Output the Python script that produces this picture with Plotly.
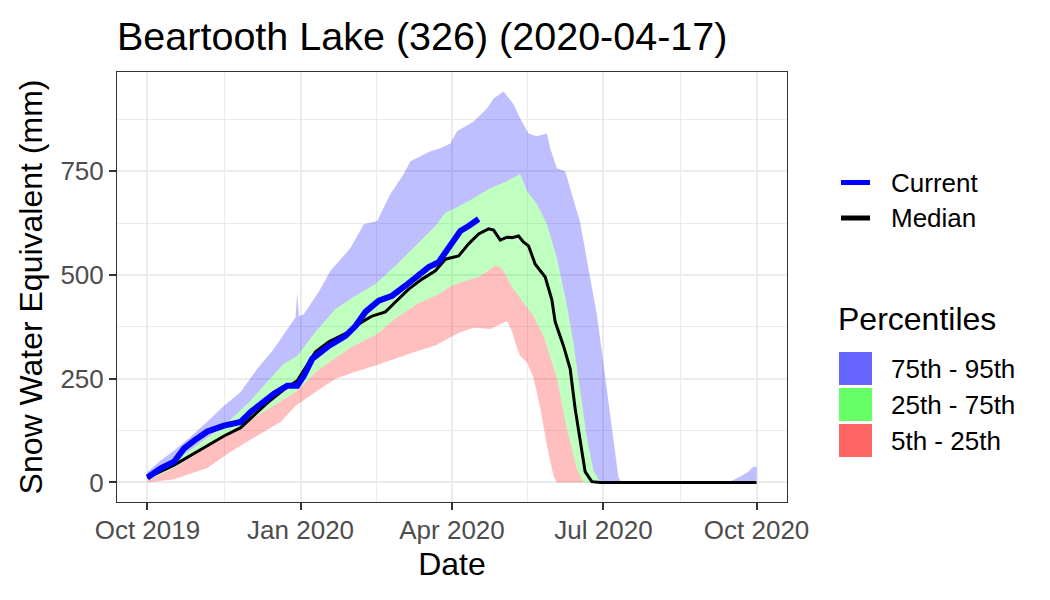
import plotly.graph_objects as go

# ---------------- data ----------------
p95_dates = ["2019-10-01", "2019-10-09", "2019-10-17", "2019-10-27", "2019-11-08", "2019-11-16",
             "2019-11-26", "2019-12-06", "2019-12-16", "2019-12-26", "2019-12-29", "2019-12-30",
             "2019-12-31", "2020-01-03", "2020-01-12", "2020-01-19", "2020-01-31", "2020-02-08",
             "2020-02-16", "2020-02-24", "2020-03-03", "2020-03-07", "2020-03-19", "2020-03-25",
             "2020-03-31", "2020-04-04", "2020-04-14", "2020-04-22", "2020-04-26", "2020-05-02",
             "2020-05-08", "2020-05-12", "2020-05-17", "2020-05-22", "2020-05-28", "2020-05-30",
             "2020-06-03", "2020-06-08", "2020-06-13", "2020-06-17", "2020-06-23", "2020-06-27",
             "2020-07-01", "2020-07-04", "2020-07-07", "2020-07-10", "2020-07-12", "2020-09-14",
             "2020-09-21", "2020-09-26", "2020-09-29", "2020-10-01"]
p95_vals = [25, 53, 77, 110, 154, 185,
            218, 274, 322, 382, 398, 457,
            400, 406, 460, 510, 565, 622,
            630, 695, 743, 774, 798, 805,
            817, 846, 870, 901, 925, 942,
            911, 877, 841, 834, 841, 805,
            757, 750, 685, 627, 493, 406,
            286, 190, 94, 12, 0, 0,
            14, 26, 38, 38]

p75_dates = ["2019-10-01", "2019-10-09", "2019-10-17", "2019-10-27", "2019-11-06", "2019-11-16",
             "2019-12-02", "2019-12-12", "2019-12-22", "2019-12-30", "2020-01-10", "2020-01-22",
             "2020-02-03", "2020-02-15", "2020-02-27", "2020-03-10", "2020-03-22", "2020-03-28",
             "2020-04-04", "2020-04-14", "2020-04-24", "2020-05-04", "2020-05-12", "2020-05-16",
             "2020-05-22", "2020-05-28", "2020-06-03", "2020-06-09", "2020-06-13", "2020-06-17",
             "2020-06-21", "2020-06-25", "2020-06-29", "2020-09-27", "2020-10-01"]
p75_vals = [17, 30, 50, 80, 108, 137,
            197, 243, 286, 305, 363, 418,
            450, 478, 522, 570, 618, 650,
            663, 685, 709, 726, 743, 702,
            671, 623, 541, 428, 334, 221,
            108, 29, 0, 0, 5]

p25_dates = ["2019-10-01", "2019-10-17", "2019-10-27", "2019-11-06", "2019-11-16", "2019-12-02",
             "2019-12-16", "2019-12-30", "2020-01-11", "2020-01-22", "2020-01-31", "2020-02-16",
             "2020-02-27", "2020-03-11", "2020-03-22", "2020-04-01", "2020-04-09", "2020-04-17",
             "2020-04-27", "2020-04-30", "2020-05-03", "2020-05-07", "2020-05-13", "2020-05-20",
             "2020-05-26", "2020-06-03", "2020-06-09", "2020-06-15", "2020-06-19", "2020-10-01"]
p25_vals = [5, 35, 60, 88, 110, 150,
            185, 221, 269, 300, 325, 358,
            395, 430, 450, 474, 486, 495,
            522, 520, 502, 471, 440, 401,
            353, 252, 130, 34, 0, 0]

p5_dates = ["2019-10-01", "2019-10-17", "2019-11-06", "2019-11-20", "2019-12-06", "2019-12-20",
            "2019-12-29", "2020-01-10", "2020-01-22", "2020-02-03", "2020-02-15", "2020-02-27",
            "2020-03-10", "2020-03-22", "2020-03-31", "2020-04-06", "2020-04-14", "2020-04-24",
            "2020-04-30", "2020-05-04", "2020-05-07", "2020-05-10", "2020-05-12", "2020-05-16",
            "2020-05-20", "2020-05-24", "2020-05-28", "2020-06-01", "2020-06-03", "2020-10-01"]
p5_vals = [0, 8, 35, 74, 113, 146,
           185, 218, 250, 267, 282, 298,
           315, 330, 350, 362, 373, 370,
           382, 389, 365, 325, 305, 290,
           252, 180, 90, 15, 0, 0]

median_dates = ["2019-10-01", "2019-10-03", "2019-10-17", "2019-10-27", "2019-11-06", "2019-11-16",
                "2019-11-26", "2019-12-02", "2019-12-12", "2019-12-22", "2019-12-30", "2020-01-10",
                "2020-01-18", "2020-01-30", "2020-02-07", "2020-02-13", "2020-02-21", "2020-02-27",
                "2020-03-06", "2020-03-14", "2020-03-22", "2020-03-28", "2020-04-05", "2020-04-11",
                "2020-04-17", "2020-04-23", "2020-04-26", "2020-04-30", "2020-05-04", "2020-05-07",
                "2020-05-11", "2020-05-14", "2020-05-17", "2020-05-21", "2020-05-27", "2020-05-31",
                "2020-06-02", "2020-06-07", "2020-06-11", "2020-06-14", "2020-06-17", "2020-06-20",
                "2020-06-24", "2020-06-29", "2020-10-01"]
median_vals = [10, 15, 42, 66, 90, 112,
               132, 155, 192, 224, 245, 315,
               339, 363, 387, 401, 411, 435,
               466, 490, 510, 538, 546, 575,
               599, 611, 608, 584, 591, 590,
               594, 579, 570, 526, 495, 440,
               387, 329, 274, 178, 99, 26,
               2, 0, 0]

current_dates = ["2019-10-01", "2019-10-09", "2019-10-17", "2019-10-23", "2019-10-29", "2019-11-06",
                 "2019-11-16", "2019-11-26", "2019-12-02", "2019-12-10", "2019-12-16", "2019-12-24",
                 "2019-12-30", "2020-01-03", "2020-01-08", "2020-01-18", "2020-01-28", "2020-02-03",
                 "2020-02-09", "2020-02-17", "2020-02-25", "2020-03-04", "2020-03-12", "2020-03-18",
                 "2020-03-24", "2020-03-28", "2020-04-01", "2020-04-06", "2020-04-11", "2020-04-17"]
current_vals = [12, 34, 50, 82, 101, 123,
                137, 146, 170, 197, 214, 233,
                233, 257, 298, 329, 353, 377,
                411, 438, 450, 474, 502, 519,
                531, 555, 579, 606, 618, 635]

x_tick_vals = ["2019-10-01", "2020-01-01", "2020-04-01", "2020-07-01", "2020-10-01"]
x_tick_text = ["Oct 2019", "Jan 2020", "Apr 2020", "Jul 2020", "Oct 2020"]
x_minor_vals = ["2019-11-16", "2020-02-15 12:00", "2020-05-16 12:00", "2020-08-16"]
y_tick_vals = [0, 250, 500, 750]
y_minor_vals = [125, 375, 625, 875]

band_names = ["75th - 95th", "25th - 75th", "5th - 25th"]
band_fill = ["rgba(0,0,255,0.25)", "rgba(0,255,0,0.25)", "rgba(255,0,0,0.25)"]
band_key = ["rgba(0,0,255,0.6)", "rgba(0,255,0,0.6)", "rgba(255,0,0,0.6)"]

# ---------------- figure ----------------
FONT = "Liberation Sans, Arial, Helvetica, sans-serif"
L, R, T, B = 117, 787, 72, 502
W, H = 1050, 600

fig = go.Figure()

bands = [
    (p95_dates, p95_vals, p75_dates, p75_vals),
    (p75_dates, p75_vals, p25_dates, p25_vals),
    (p25_dates, p25_vals, p5_dates, p5_vals),
]
for (ud, uv, ld, lv), name, col in zip(bands[::-1], band_names[::-1], band_fill[::-1]):
    fig.add_trace(go.Scatter(
        x=ud + ld[::-1], y=uv + lv[::-1], fill="toself", fillcolor=col,
        mode="lines", line=dict(width=0, color=col), name=name,
        hoverinfo="skip", showlegend=False))

fig.add_trace(go.Scatter(x=median_dates, y=median_vals, mode="lines", name="Median",
                         line=dict(color="black", width=3), showlegend=False))
fig.add_trace(go.Scatter(x=current_dates, y=current_vals, mode="lines", name="Current",
                         line=dict(color="#0000FF", width=6), showlegend=False))


def fx(px):
    return (px - L) / (R - L)


def fy(py):
    return (B - py) / (B - T)


shapes = []
annotations = []
# line legend
for (label, color, yc) in [("Current", "#0000FF", 182.5), ("Median", "black", 218)]:
    shapes.append(dict(type="line", xref="paper", yref="paper", x0=fx(841), x1=fx(870),
                       y0=fy(yc), y1=fy(yc), line=dict(color=color, width=5)))
    annotations.append(dict(xref="paper", yref="paper", x=fx(889), y=fy(yc), text=label,
                            showarrow=False, xanchor="left", yanchor="middle",
                            font=dict(size=26, color="black", family=FONT)))
# percentile legend
annotations.append(dict(xref="paper", yref="paper", x=fx(836), y=fy(319), text="Percentiles",
                        showarrow=False, xanchor="left", yanchor="middle",
                        font=dict(size=32, color="black", family=FONT)))
for i, (label, col) in enumerate(zip(band_names, band_key)):
    y0 = 352 + i * 36
    shapes.append(dict(type="rect", xref="paper", yref="paper", x0=fx(839), x1=fx(872),
                       y0=fy(y0), y1=fy(y0 + 33), line=dict(width=0), fillcolor=col))
    annotations.append(dict(xref="paper", yref="paper", x=fx(889), y=fy(y0 + 16.5), text=label,
                            showarrow=False, xanchor="left", yanchor="middle",
                            font=dict(size=26, color="black", family=FONT)))

fig.update_layout(
    width=W, height=H,
    margin=dict(l=L, r=W - R, t=T, b=H - B, pad=0),
    paper_bgcolor="white", plot_bgcolor="white",
    font=dict(family=FONT, color="black"),
    title=dict(text="Beartooth Lake (326) (2020-04-17)", xref="paper", x=0, xanchor="left",
               yref="container", y=1 - 36 / H, yanchor="middle",
               font=dict(size=39.5, color="black", family=FONT)),
    shapes=shapes, annotations=annotations,
    showlegend=False,
    xaxis=dict(
        type="date", range=["2019-09-12 17:00", "2020-10-19 07:00"],
        tickmode="array", tickvals=x_tick_vals, ticktext=x_tick_text,
        ticks="outside", ticklen=7, tickwidth=2, tickcolor="#333333",
        tickfont=dict(size=26, color="#4D4D4D", family=FONT),
        ticklabelstandoff=-2,
        showgrid=True, gridcolor="#EBEBEB", gridwidth=2,
        minor=dict(tickmode="array", tickvals=x_minor_vals, showgrid=True,
                   gridcolor="#EBEBEB", gridwidth=1, ticks=""),
        showline=True, linecolor="#333333", linewidth=1, mirror=True, zeroline=False,
        title=dict(text="Date", font=dict(size=32, color="black", family=FONT), standoff=8),
    ),
    yaxis=dict(
        range=[-47, 989],
        tickmode="array", tickvals=y_tick_vals,
        ticks="outside", ticklen=7, tickwidth=2, tickcolor="#333333",
        tickfont=dict(size=26, color="#4D4D4D", family=FONT),
        showgrid=True, gridcolor="#EBEBEB", gridwidth=2,
        minor=dict(tickmode="array", tickvals=y_minor_vals, showgrid=True,
                   gridcolor="#EBEBEB", gridwidth=1, ticks=""),
        showline=True, linecolor="#333333", linewidth=1, mirror=True, zeroline=False,
        title=dict(text="Snow Water Equivalent (mm)", font=dict(size=32, color="black", family=FONT),
                   standoff=8),
    ),
)

fig.write_html("out.html", config={"displayModeBar": False},
               post_script="document.body.style.margin='0';")
